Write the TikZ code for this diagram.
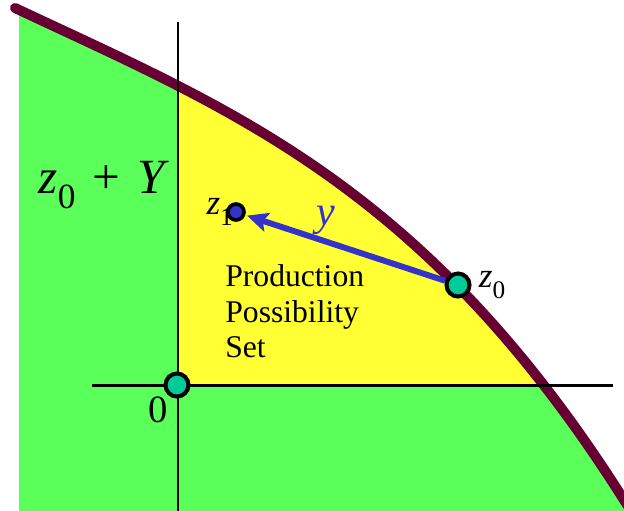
\documentclass[tikz,border=0pt]{standalone}
\usepackage{fontspec}
\setmainfont{Liberation Serif}
\usepackage{graphicx}
\usetikzlibrary{arrows.meta,positioning}

\definecolor{ppsgreen}{RGB}{90,255,90}
\definecolor{ppsyellow}{RGB}{255,255,51}
\definecolor{frontier}{RGB}{102,0,51}
\definecolor{dotteal}{RGB}{0,204,153}
\definecolor{vecblue}{RGB}{51,51,204}

\newcommand{\zsub}[2][0.72]{\textit{z}\raisebox{-0.32em}{\scalebox{#1}{#2}}}
\def\ppfcurve{(15,8) .. controls (230,109) and (425,185) .. (624,500) -- (660,555)}

\begin{document}
\begin{tikzpicture}[x=0.02cm,y=-0.02cm,
		axis/.style={line width=1.7pt},
		bigdot/.style={circle,draw=black,line width=2.3pt,fill=dotteal,minimum size=0.46cm,inner sep=0pt},
		smalldot/.style={circle,draw=black,line width=2.1pt,fill=vecblue,minimum size=0.32cm,inner sep=0pt},
		lab/.style={inner sep=0pt,font=\fontsize{20}{22}\selectfont}]
	\useasboundingbox (0,0) rectangle (624,510);
	\clip (0,0) rectangle (624,510);
	% feasible set and the part in the positive quadrant
	\fill[ppsgreen] \ppfcurve -- (19,555) -- (19,10) -- cycle;
	\begin{scope}
		\clip (178,0) rectangle (624,385);
		\fill[ppsyellow] \ppfcurve -- (19,555) -- cycle;
	\end{scope}
	\draw[frontier,line width=5.7pt,line cap=round] \ppfcurve;
	% axes
	\coordinate (vtop) at (178,22);
	\coordinate (vbot) at (178,515);
	\coordinate (hleft) at (92,385);
	\coordinate (hright) at (613,385);
	\draw[axis] (vtop) -- (vbot);
	\draw[axis] (hleft) -- (hright);
	% points
	\node[bigdot] (orig) at (177,385) {};
	\node[bigdot] (z0) at (458,285) {};
	\node[smalldot] (z1) at (236,212) {};
	\draw[vecblue,line width=3.4pt,shorten >=1pt,-{Stealth[length=12pt,width=11pt,inset=2.5pt]}] (z0) -- (z1);
	\node[lab,left=-4pt of z1] (z1lab) {\zsub{1}};
	\node[lab,right=4pt of z0] (z0lab) {\zsub{0}};
	\node[lab,font=\fontsize{22}{24}\selectfont] (origlab) at (158,410) {0};
	\node[lab,text=vecblue,font=\fontsize{24}{26}\selectfont] (ylab) at (326,220) {\textit{y}};
	\node[lab,font=\fontsize{28}{30}\selectfont] (shiftlab) at (104,185) {\zsub{0}\hspace{0.35em}+\hspace{0.35em}\textit{Y}};
	\node[lab,align=left,anchor=north west,font=\fontsize{18}{20.4}\selectfont] (ppslab) at (225,264) {Production\\Possibility\\Set};
\end{tikzpicture}
\end{document}
